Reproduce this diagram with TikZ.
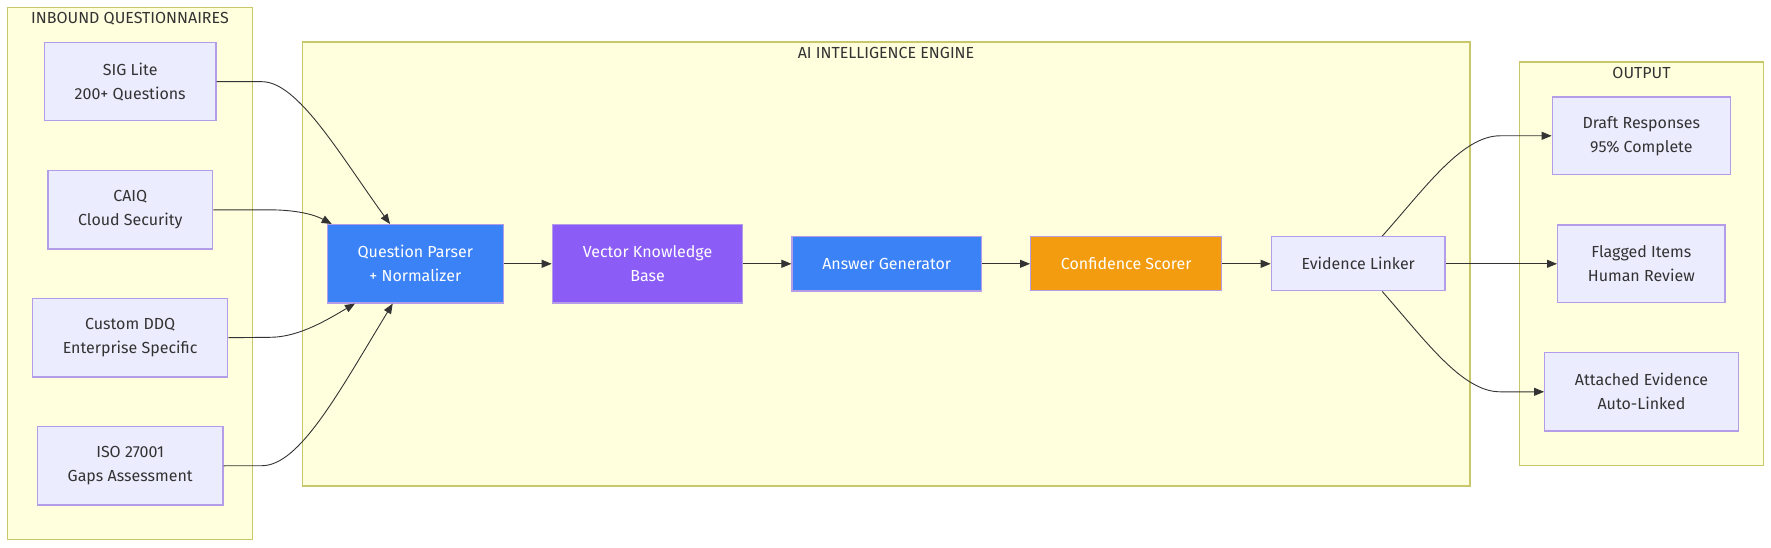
\documentclass[tikz,border=0pt]{standalone}
\usepackage{fontspec}
\setmainfont{Fira Sans}
\usetikzlibrary{arrows.meta}
\definecolor{clfill}{HTML}{FFFFDE}
\definecolor{cldraw}{HTML}{C8C86A}
\definecolor{ndfill}{HTML}{ECECFF}
\definecolor{nddraw}{HTML}{B39DE8}
\definecolor{txt}{HTML}{333333}
\definecolor{bluebox}{HTML}{3B82F6}
\definecolor{purplebox}{HTML}{8B5CF6}
\definecolor{orangebox}{HTML}{F39C0F}
\tikzset{
  cluster/.style={draw=cldraw,fill=clfill,line width=1.3pt},
  cltitle/.style={text=txt,inner sep=0pt,font=\fontsize{16pt}{24pt}\selectfont},
  box/.style={draw=nddraw,fill=ndfill,line width=1.3pt,text=txt,align=center,inner sep=0pt,font=\fontsize{16pt}{24pt}\selectfont},
  bluenode/.style={box,fill=bluebox,text=white},
  purplenode/.style={box,fill=purplebox,text=white},
  orangenode/.style={box,fill=orangebox,text=white},
  conn/.style={draw=txt,line width=0.9pt,-{Triangle[length=10pt,width=8pt]}}
}
\begin{document}
\begin{tikzpicture}[x=1pt,y=-1pt]
\useasboundingbox (0,0) rectangle (1771,548);
% clusters
\draw[cluster] (7.3,7.3) rectangle (252.7,539.3);
\node[cltitle] (tin) at (130,19) {INBOUND QUESTIONNAIRES};
\draw[cluster] (302.3,42) rectangle (1470,486);
\node[cltitle] (tai) at (886,53.3) {AI INTELLIGENCE ENGINE};
\draw[cluster] (1519.3,62) rectangle (1763.3,465.7);
\node[cltitle] (tout) at (1641.5,73) {OUTPUT};
% inbound nodes
\node[box,minimum width=171.7pt,minimum height=78pt] (sig) at (130.2,81.7) {SIG Lite\\200+ Questions};
\node[box,minimum width=164.7pt,minimum height=78.3pt] (caiq) at (130.3,209.8) {CAIQ\\Cloud Security};
\node[box,minimum width=195pt,minimum height=78.7pt] (ddq) at (130.2,337.7) {Custom DDQ\\Enterprise Specific};
\node[box,minimum width=185.7pt,minimum height=78.3pt] (iso) at (130.2,465.8) {ISO 27001\\Gaps Assessment};
% engine nodes
\node[bluenode,minimum width=176pt,minimum height=78.3pt] (qp) at (415.3,263.8) {Question Parser\\+ Normalizer};
\node[purplenode,minimum width=190.4pt,minimum height=78.3pt] (vkb) at (647.5,263.8) {Vector Knowledge\\Base};
\node[bluenode,minimum width=189.3pt,minimum height=54.3pt] (ans) at (886.7,263.8) {Answer Generator};
\node[orangenode,minimum width=191pt,minimum height=54pt] (conf) at (1126.2,263.8) {Confidence Scorer};
\node[box,minimum width=173.7pt,minimum height=54pt] (evid) at (1358.2,263.8) {Evidence Linker};
% output nodes
\node[box,minimum width=178pt,minimum height=77.7pt] (draft) at (1641.3,135.8) {Draft Responses\\95\% Complete};
\node[box,minimum width=167.3pt,minimum height=77.7pt] (flag) at (1641.3,263.8) {Flagged Items\\Human Review};
\node[box,minimum width=193.6pt,minimum height=78.3pt] (att) at (1641.5,391.8) {Attached Evidence\\Auto-Linked};
% coordinates for curve ends
\coordinate (qpA) at ([xshift=-25.3pt]qp.north);
\coordinate (qpB) at ([xshift=-83.6pt]qp.north);
\coordinate (qpC) at ([xshift=-60.3pt]qp.south);
\coordinate (qpD) at ([xshift=-22.6pt]qp.south);
\coordinate (evT) at ([xshift=24pt]evid.north);
\coordinate (evB) at ([xshift=24pt]evid.south);
% inbound connectors
\draw[conn] (sig.east) -- (262,81.7) .. controls (298,81.7) and (340,155) .. (qpA);
\draw[conn] (caiq.east) -- (268,209.8) .. controls (298,209.8) and (315,215) .. (qpB);
\draw[conn] (ddq.east) -- (270,337.3) .. controls (300,337.3) and (330,318) .. (qpC);
\draw[conn] (iso.east) -- (262,465.7) .. controls (300,465.7) and (340,390) .. (qpD);
% engine chain
\draw[conn] (qp.east) -- (vkb.west);
\draw[conn] (vkb.east) -- (ans.west);
\draw[conn] (ans.east) -- (conf.west);
\draw[conn] (conf.east) -- (evid.west);
% outputs
\draw[conn] (evT) .. controls (1425,188) and (1462,135.8) .. (1500,135.8) -- (draft.west);
\draw[conn] (evid.east) -- (flag.west);
\draw[conn] (evB) .. controls (1425,340) and (1462,391.8) .. (1500,391.8) -- (att.west);
\end{tikzpicture}
\end{document}
